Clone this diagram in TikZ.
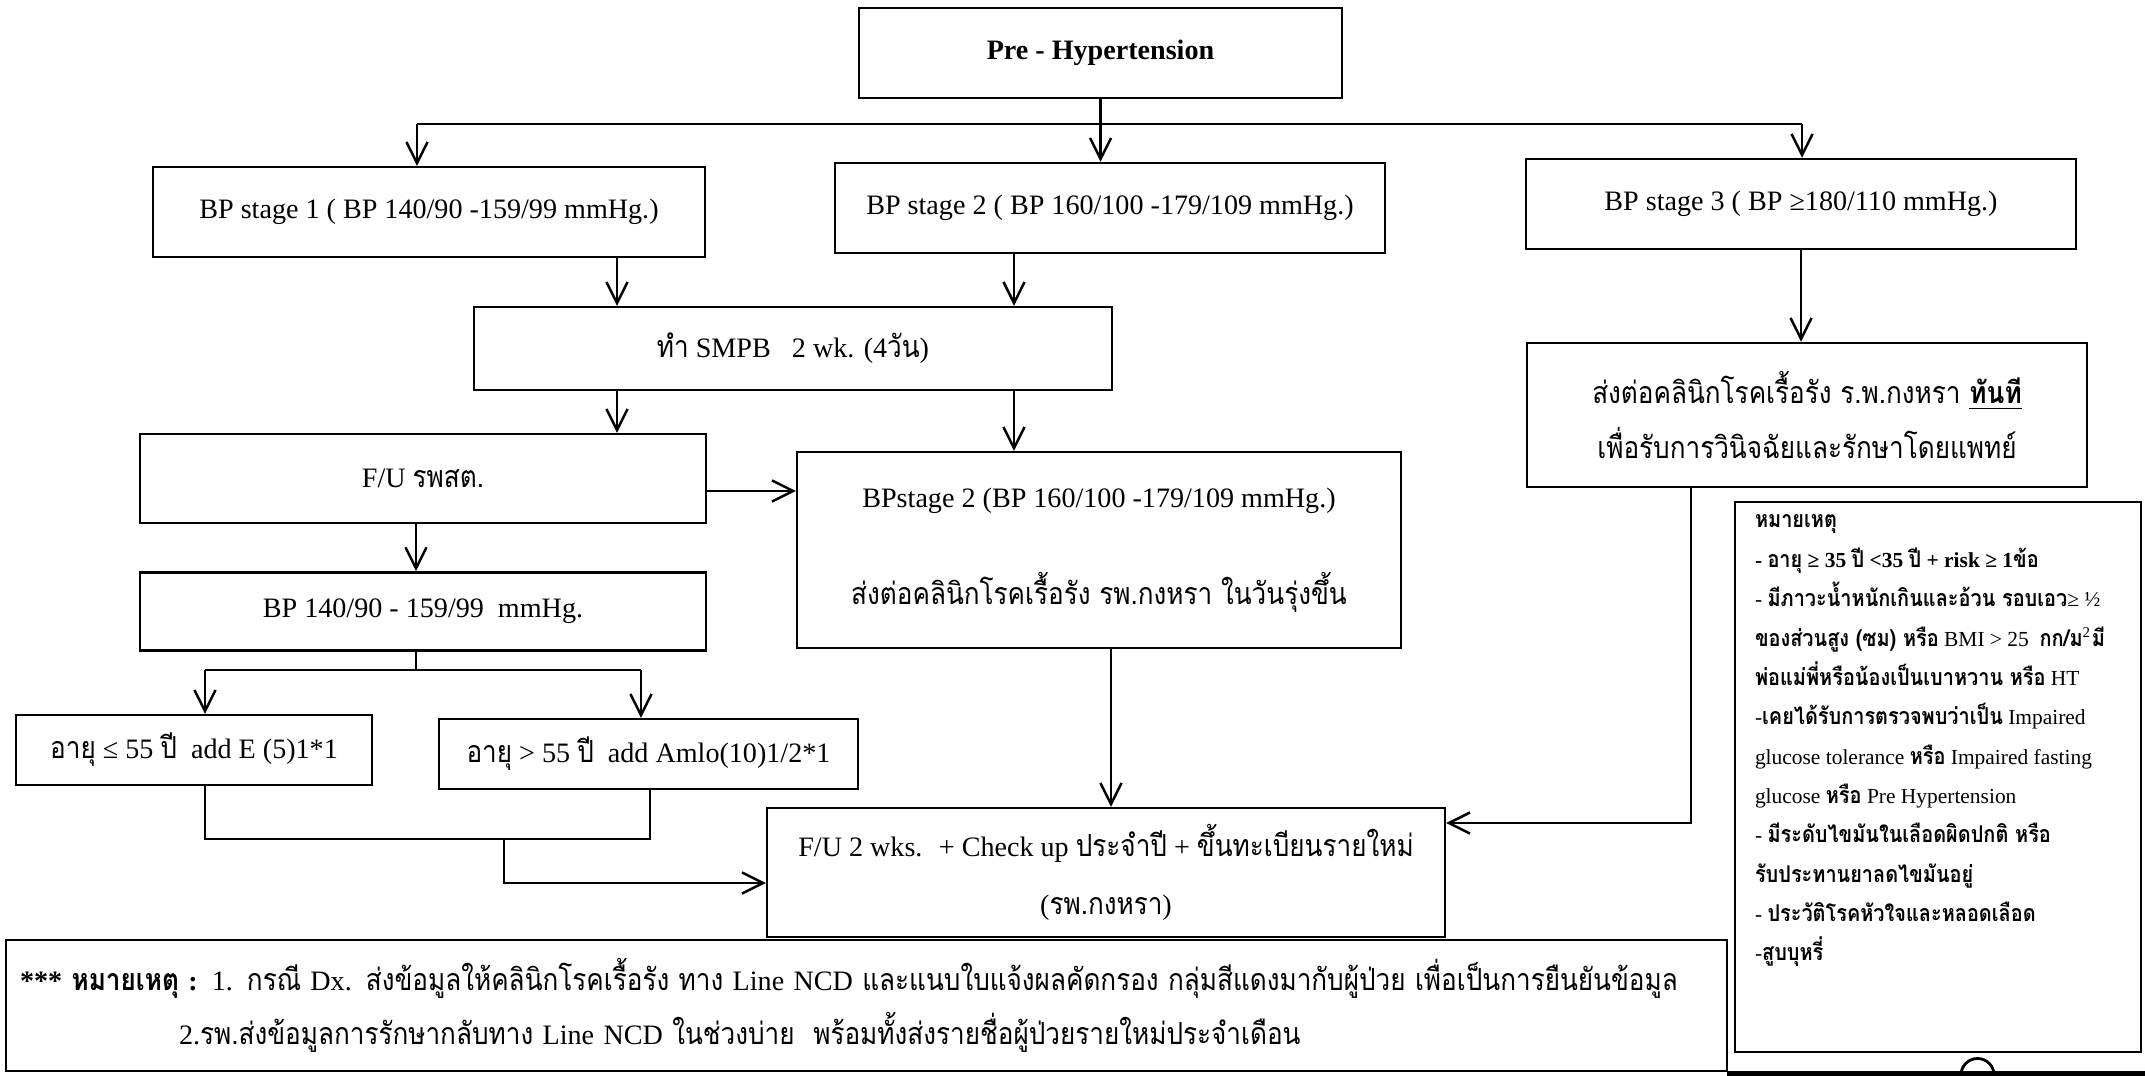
\documentclass[tikz,border=0pt]{standalone}
\usepackage{fontspec}
\setmainfont{Liberation Serif}
\newfontfamily\thaifont[Script=Thai,Scale=1.08,FakeStretch=0.86]{Loma}
\usetikzlibrary{arrows.meta, positioning}

\newcommand{\thx}[1]{{\thaifont #1}}
\newcommand{\thb}[1]{{\thaifont\bfseries #1}}

\begin{document}
\begin{tikzpicture}[
    x=0.1mm, y=-0.1mm,
    every node/.style = {font=\fontsize{8}{9.6}\selectfont},
    box/.style = {
        rectangle, draw, line width=0.7pt,
        align=center, inner sep=0pt
    },
    arr/.style = {-{Straight Barb[length=6pt,width=6pt]}, line width=0.7pt},
    link/.style = {line width=0.7pt},
]
\useasboundingbox (0,0) rectangle (2145,1076);

% Top: pre-hypertension
\node[box, minimum width=48.3mm, minimum height=9mm] (pre) at (1100.5,53)
    {\textbf{Pre - Hypertension}};

% Stages
\node[box, minimum width=55.2mm, minimum height=9mm] (stage1) at (429,212)
    {BP stage 1 ( BP 140/90 -159/99 mmHg.)};
\node[box, minimum width=55mm, minimum height=9mm] (stage2) at (1110,208)
    {BP stage 2 ( BP 160/100 -179/109 mmHg.)};
\node[box, minimum width=55mm, minimum height=9mm] (stage3) at (1801,204)
    {BP stage 3 ( BP ≥180/110 mmHg.)};

% Home blood pressure
\node[box, minimum width=63.8mm, minimum height=8.3mm] (smpb) at (793,348.5)
    {\thx{ทำ} SMPB \ \ 2 wk. (4\thx{วัน})};

% Follow up / referral
\node[box, minimum width=56.6mm, minimum height=8.9mm] (fursst) at (423,478.5)
    {F/U \thx{รพสต.}};
\node[box, minimum width=60.4mm, minimum height=19.6mm,
      font=\fontsize{8}{27.6}\selectfont] (refer2) at (1099,550)
    {BPstage 2 (BP 160/100 -179/109 mmHg.)\\
     \thx{ส่งต่อคลินิกโรคเรื้อรัง รพ.กงหรา ในวันรุ่งขึ้น}};
\node[box, minimum width=56.6mm, minimum height=7.8mm, below=4.7mm of fursst] (bp140)
    {BP 140/90 - 159/99 \ mmHg.};
\node[box, minimum width=56mm, minimum height=14.4mm,
      font=\fontsize{8}{15.6}\selectfont] (refer3) at (1807,415)
    {\thx{ส่งต่อคลินิกโรคเรื้อรัง ร.พ.กงหรา \textbf{\underline{ทันที}}}\\
     \thx{เพื่อรับการวินิจฉัยและรักษาโดยแพทย์}};

% Drugs by age
\node[box, minimum width=35.6mm, minimum height=7mm] (agelo) at (194,750)
    {\thx{อายุ} ≤ 55 \thx{ปี} \ add E (5)1*1};
\node[box, minimum width=41.9mm, minimum height=7mm] (agehi) at (648.5,754)
    {\thx{อายุ} > 55 \thx{ปี} \ add Amlo(10)1/2*1};

% Final follow up
\node[box, minimum width=67.8mm, minimum height=12.9mm,
      font=\fontsize{8}{16.5}\selectfont] (fu2) at (1106,872.5)
    {F/U 2 wks. \ + Check up \thx{ประจำปี} + \thx{ขึ้นทะเบียนรายใหม่}\\
     (\thx{รพ.กงหรา})};

% Risk notes
\node[box, minimum width=40.6mm, minimum height=55mm,
      font=\fontsize{6.1}{11.2}\selectfont] (riskbox) at (1938,777)
    {\parbox[c][52.4mm][t]{36.6mm}{\raggedright
     \thb{หมายเหตุ}\\
     \textbf{- \thx{อายุ} ≥ 35 \thx{ปี} <35 \thx{ปี} + risk ≥ 1\thx{ข้อ}}\\
     - \thb{มีภาวะน้ำหนักเกินและอ้วน รอบเอว}≥ ½\\
     \thb{ของส่วนสูง (ซม) หรือ} BMI > 25 \ \thb{กก/ม}\textsuperscript{2}\thb{มี}\\
     \thb{พ่อแม่พี่หรือน้องเป็นเบาหวาน หรือ} HT\\
     -\thb{เคยได้รับการตรวจพบว่าเป็น} Impaired\\
     glucose tolerance \thb{หรือ} Impaired fasting\\
     glucose \thb{หรือ} Pre Hypertension\\
     - \thb{มีระดับไขมันในเลือดผิดปกติ หรือ}\\
     \thb{รับประทานยาลดไขมันอยู่}\\
     - \thb{ประวัติโรคหัวใจและหลอดเลือด}\\
     -\thb{สูบบุหรี่}}};

% Footnote
\node[box, minimum width=172.1mm, minimum height=13.1mm, align=left,
      text width=169.3mm, font=\fontsize{8}{15.4}\selectfont] (footnote) at (866.5,1005.5)
    {\textbf{*** \thx{หมายเหตุ} :} 1. \thx{กรณี} Dx. \thx{ส่งข้อมูลให้คลินิกโรคเรื้อรัง ทาง} Line NCD
     \thx{และแนบใบแจ้งผลคัดกรอง กลุ่มสีแดงมากับผู้ป่วย เพื่อเป็นการยืนยันข้อมูล}\\
     \hspace*{15.9mm}2.\thx{รพ.ส่งข้อมูลการรักษากลับทาง} Line NCD
     \thx{ในช่วงบ่าย \ พร้อมทั้งส่งรายชื่อผู้ป่วยรายใหม่ประจำเดือน}};

% Arrows from the top box
\coordinate (fork) at (417,124);
\coordinate (forkr) at (1802,124);
\draw[link] (fork) -- (forkr);
\draw[arr] (pre.south) -- (pre.south |- stage2.north);
\draw[arr] (fork) -- (fork |- stage1.north);
\draw[arr] (forkr) -- (forkr |- stage3.north);

% Into and out of SMPB
\coordinate (s1x) at (617,0);
\coordinate (s2x) at (1014,0);
\draw[arr] (stage1.south -| s1x) -- (smpb.north -| s1x);
\draw[arr] (stage2.south -| s2x) -- (smpb.north -| s2x);
\draw[arr] (smpb.south -| s1x) -- (fursst.north -| s1x);
\draw[arr] (smpb.south -| s2x) -- (refer2.north -| s2x);
\draw[arr] ([yshift=-1.25mm]fursst.east) -- ([yshift=-1.25mm]fursst.east -| refer2.west);

% Left branch
\coordinate (fx) at (416,670);
\draw[arr] (fursst.south -| fx) -- (bp140.north -| fx);
\draw[link] (bp140.south -| fx) -- (fx);
\coordinate (agel) at (205,670);
\coordinate (ager) at (641,670);
\draw[link] (agel) -- (ager);
\draw[arr] (agel) -- (agel |- agelo.north);
\draw[arr] (ager) -- (ager |- agehi.north);
\coordinate (joinl) at (205,839);
\coordinate (joinr) at (650,839);
\coordinate (joinm) at (504,839);
\coordinate (fuin) at (766,883);
\draw[link] (agelo.south -| joinl) -- (joinl) -- (joinr) -- (agehi.south -| joinr);
\draw[arr] (joinm) |- (fu2.west |- fuin);

% Middle and right branches
\coordinate (rx) at (1111,0);
\draw[arr] (refer2.south -| rx) -- (fu2.north -| rx);
\draw[arr] (stage3.south) -- (stage3.south |- refer3.north);
\coordinate (r3x) at (1691,823);
\draw[arr] (refer3.south -| r3x) |- (fu2.east |- r3x);

% scan edge at the bottom right
\draw[line width=1.5pt] (1727,1074) -- (2145,1074);
\draw[line width=0.8pt] (1961,1075) arc[start angle=180, end angle=0, radius=1.65mm];

\end{tikzpicture}
\end{document}
